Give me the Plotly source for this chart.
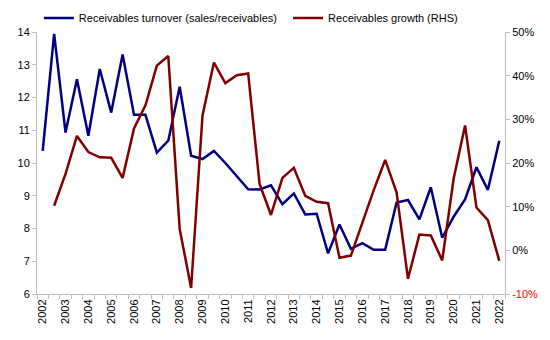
import plotly.graph_objects as go

# Semiannual periods 2002H1 .. 2022H1 (41 points); labels every other period
periods = list(range(41))
year_labels = [str(y) for y in range(2002, 2023)]

turnover = [10.37, 13.94, 10.93, 12.56, 10.83, 12.87, 11.54, 13.31, 11.47, 11.47,
            10.32, 10.68, 12.33, 10.22, 10.12, 10.37, 10.0, 9.6, 9.2, 9.19,
            9.32, 8.74, 9.07, 8.43, 8.45, 7.24, 8.12, 7.38, 7.55, 7.35,
            7.35, 8.79, 8.87, 8.28, 9.26, 7.72, 8.36, 8.89, 9.87, 9.18,
            10.68]

growth = [None, 10.2, 17.5, 26.2, 22.5, 21.3, 21.2, 16.6, 27.9, 33.2,
          42.3, 44.5, 4.9, -8.6, 30.9, 43.0, 38.3, 40.1, 40.5, 15.2,
          8.1, 16.6, 18.9, 12.5, 11.1, 10.8, -1.7, -1.2, 6.5, 13.8,
          20.7, 13.3, -6.5, 3.6, 3.4, -2.3, 16.4, 28.6, 9.8, 6.9,
          -2.4]

left_ticks = [6, 7, 8, 9, 10, 11, 12, 13, 14]
right_ticks = [-10, 0, 10, 20, 30, 40, 50]

FONT = "Liberation Sans, Arial, sans-serif"
AXIS_GREY = "#bfbfbf"

fig = go.Figure()
fig.add_trace(go.Scatter(
    x=periods, y=turnover, mode="lines",
    name="Receivables turnover (sales/receivables)\u00a0\u00a0",
    line=dict(color="#000080", width=2.5),
))
fig.add_trace(go.Scatter(
    x=periods, y=growth, mode="lines", yaxis="y2",
    name="Receivables growth (RHS)",
    line=dict(color="#800000", width=2.5),
))

right_text = []
for v in right_ticks:
    if v < 0:
        right_text.append('<span style="color:#ff0000">%d%%</span>' % v)
    else:
        right_text.append("%d%%" % v)

fig.update_layout(
    width=550, height=340,
    margin=dict(l=37, r=45, t=32, b=46, autoexpand=False),
    paper_bgcolor="white", plot_bgcolor="white",
    font=dict(family=FONT, size=11, color="#000000"),
    showlegend=True,
    legend=dict(orientation="h", x=0.004, y=1 - 18 / 340, yref="container",
                xanchor="left", yanchor="middle",
                font=dict(size=11), itemwidth=30, bgcolor="rgba(0,0,0,0)",
                tracegroupgap=0),
    xaxis=dict(
        range=[-0.5, 40.5], tickmode="array",
        tickvals=[periods[2 * i] for i in range(len(year_labels))],
        ticktext=year_labels, tickangle=-90, ticks="",
        showline=True, linecolor=AXIS_GREY, linewidth=1, showgrid=False,
        zeroline=False, tickfont=dict(size=11),
        minor=dict(ticks="outside", tick0=0.5, dtick=1, ticklen=4,
                   tickcolor=AXIS_GREY, showgrid=False),
    ),
    yaxis=dict(
        range=[6, 14], tickmode="array", tickvals=left_ticks,
        ticks="outside", ticklen=4, tickcolor=AXIS_GREY,
        showline=True, linecolor=AXIS_GREY, linewidth=1, showgrid=False,
        zeroline=False, tickfont=dict(size=11),
    ),
    yaxis2=dict(
        range=[-10, 50], overlaying="y", side="right",
        tickmode="array", tickvals=right_ticks, ticktext=right_text,
        ticks="outside", ticklen=4, tickcolor=AXIS_GREY,
        showline=True, linecolor=AXIS_GREY, linewidth=1, showgrid=False,
        zeroline=False, tickfont=dict(size=11),
    ),
)

fig.write_html("out.html")
